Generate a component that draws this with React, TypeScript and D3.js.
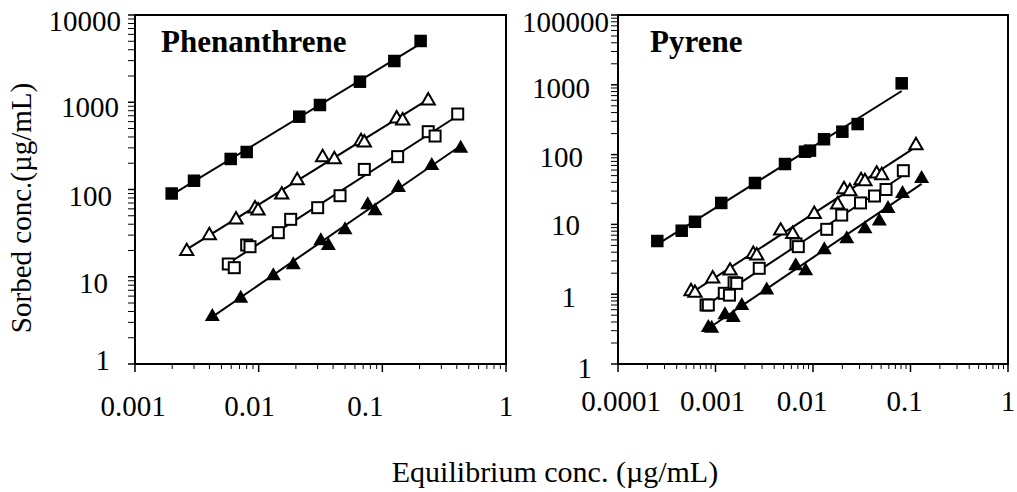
import React from 'react';
import * as d3 from 'd3';

// ---------- DATA ----------
// Phenanthrene panel
const phenFilledSqX = [0.00198, 0.0030, 0.00594, 0.0080, 0.0213, 0.0313, 0.0659, 0.125, 0.204];
const phenFilledSqY = [90, 126, 224, 269, 683, 930, 1720, 2970, 5040];
const phenOpenTriX = [0.00262, 0.00399, 0.00656, 0.00934, 0.00988, 0.01536, 0.0205, 0.0329, 0.0409, 0.0672, 0.0715, 0.1306, 0.146, 0.235];
const phenOpenTriY = [20.3, 30.9, 46.8, 62.5, 59.3, 90.4, 132, 242, 230, 369, 357, 672, 638, 1081];
const phenOpenSqX = [0.00568, 0.00635, 0.0080, 0.00851, 0.01442, 0.01815, 0.0300, 0.0455, 0.0715, 0.133, 0.235, 0.267, 0.407];
const phenOpenSqY = [14.0, 12.7, 23.1, 22.1, 32.0, 45.5, 61.9, 84.9, 170, 238, 460, 410, 733];
const phenFilledTriX = [0.00422, 0.00716, 0.01313, 0.01905, 0.0318, 0.0366, 0.0499, 0.0762, 0.0873, 0.135, 0.251, 0.430];
const phenFilledTriY = [3.64, 5.9, 10.7, 14.3, 26.9, 23.7, 35.9, 69.5, 59.3, 110, 196, 310];

// Pyrene panel
const pyrFilledSqX = [0.000253, 0.00045, 0.000616, 0.001146, 0.00254, 0.00516, 0.00828, 0.00931, 0.01297, 0.0200, 0.0287, 0.0812];
const pyrFilledSqY = [5.78, 8.12, 10.9, 20.3, 39.2, 73.3, 110, 114, 166, 213, 274, 1050];
const pyrOpenTriX = [0.000561, 0.000616, 0.000936, 0.00141, 0.00244, 0.00265, 0.00466, 0.00619, 0.0103, 0.0179, 0.0208, 0.0239, 0.0311, 0.0341, 0.0450, 0.0507, 0.1138];
const pyrOpenTriY = [1.15, 1.09, 1.75, 2.27, 3.93, 3.73, 8.5, 7.6, 14.7, 20.1, 33.2, 31.1, 44.7, 43.3, 55.7, 52.7, 142];
const pyrOpenSqX = [0.0008, 0.000844, 0.00123, 0.00139, 0.00155, 0.00165, 0.00281, 0.0067, 0.00707, 0.01383, 0.0197, 0.0307, 0.0427, 0.0561, 0.0844];
const pyrOpenSqY = [0.70, 0.70, 1.03, 0.97, 1.46, 1.43, 2.35, 5.24, 4.80, 8.5, 13.6, 20.3, 25.5, 31.6, 58.8];
const pyrFilledTriX = [0.000844, 0.000914, 0.00125, 0.00152, 0.00186, 0.00335, 0.00665, 0.00841, 0.01306, 0.0222, 0.0341, 0.0479, 0.0588, 0.0828, 0.130];
const pyrFilledTriY = [0.35, 0.342, 0.533, 0.487, 0.724, 1.21, 2.68, 2.27, 4.54, 6.53, 9.08, 11.8, 17.8, 29.1, 47.8];

// Tick values and labels
const phenXTicks = [0.001, 0.01, 0.1, 1];
const phenXLabels = ['0.001', '0.01', '0.1', '1'];
const phenYTicks = [1, 10, 100, 1000, 10000];
const phenYLabels = ['1', '10', '100', '1000', '10000'];
const pyrXTicks = [0.0001, 0.001, 0.01, 0.1, 1];
const pyrXLabels = ['0.0001', '0.001', '0.01', '0.1', '1'];
const pyrYTicks = [0.1, 1, 10, 100, 1000, 10000];
const pyrYLabels = ['1', '1', '10', '100', '1000', '100000'];

const panelTitles = ['Phenanthrene', 'Pyrene'];
const yAxisTitle = 'Sorbed conc.(\u00b5g/mL)';
const xAxisTitle = 'Equilibrium conc. (\u00b5g/mL)';

// ---------- LAYOUT ----------
const W = 1017;
const H = 492;
const FONT = "'Liberation Serif', 'Times New Roman', serif";

type Series = { x: number[]; y: number[]; kind: 'sqF' | 'sqO' | 'triF' | 'triO' };

const panels = [
  {
    title: panelTitles[0],
    titleX: 161,
    x0: 135, x1: 506, y0: 15, y1: 364,
    xDomain: [0.001, 1], yDomain: [1, 10000],
    xTicks: phenXTicks, xLabels: phenXLabels, xLabelDx: [-2, -9, -17, 0], xLabelBase: 416,
    yTicks: phenYTicks, yLabels: phenYLabels,
    yLabelEnd: [110, 108, 112, 119, 121], yLabelDy: [6, 16, 16, 15, 16],
    series: [
      { x: phenFilledSqX, y: phenFilledSqY, kind: 'sqF' },
      { x: phenOpenTriX, y: phenOpenTriY, kind: 'triO' },
      { x: phenOpenSqX, y: phenOpenSqY, kind: 'sqO' },
      { x: phenFilledTriX, y: phenFilledTriY, kind: 'triF' },
    ] as Series[],
  },
  {
    title: panelTitles[1],
    titleX: 650,
    x0: 618, x1: 1008, y0: 15, y1: 364,
    xDomain: [0.0001, 1], yDomain: [0.1, 10000],
    xTicks: pyrXTicks, xLabels: pyrXLabels, xLabelDx: [3, -3, -11, -6, 0], xLabelBase: 411,
    yTicks: pyrYTicks, yLabels: pyrYLabels,
    yLabelEnd: [592, 576, 580, 583, 590, 609], yLabelDy: [14, 13, 11, 12, 13, 17],
    series: [
      { x: pyrFilledSqX, y: pyrFilledSqY, kind: 'sqF' },
      { x: pyrOpenTriX, y: pyrOpenTriY, kind: 'triO' },
      { x: pyrOpenSqX, y: pyrOpenSqY, kind: 'sqO' },
      { x: pyrFilledTriX, y: pyrFilledTriY, kind: 'triF' },
    ] as Series[],
  },
];

function logFit(xs: number[], ys: number[]) {
  const lx = xs.map(Math.log10);
  const ly = ys.map(Math.log10);
  const mx = d3.mean(lx)!;
  const my = d3.mean(ly)!;
  let num = 0, den = 0;
  lx.forEach((v, i) => { num += (v - mx) * (ly[i] - my); den += (v - mx) * (v - mx); });
  const b = num / den;
  const a = my - b * mx;
  return (x: number) => Math.pow(10, a + b * Math.log10(x));
}

function minorTicks(domain: number[]) {
  const out: number[] = [];
  const lo = Math.round(Math.log10(domain[0]));
  const hi = Math.round(Math.log10(domain[1]));
  for (let e = lo; e < hi; e++) {
    for (let m = 2; m <= 9; m++) out.push(m * Math.pow(10, e));
  }
  return out;
}

const TRI = 'M0,-7L7.5,6L-7.5,6Z';
const TRI_O = 'M0,-6.2L6.6,5.2L-6.6,5.2Z';

function Marker({ kind, cx, cy }: { kind: string; cx: number; cy: number }) {
  if (kind === 'sqF') return <rect x={cx - 6.25} y={cy - 6.25} width={12.5} height={12.5} fill="#000" />;
  if (kind === 'sqO') return <rect x={cx - 5.5} y={cy - 5.5} width={11} height={11} fill="#fff" stroke="#000" strokeWidth={2} />;
  if (kind === 'triF') return <path d={TRI} transform={`translate(${cx},${cy})`} fill="#000" />;
  return <path d={TRI_O} transform={`translate(${cx},${cy})`} fill="#fff" stroke="#000" strokeWidth={2} strokeLinejoin="miter" />;
}

function Panel({ p }: { p: typeof panels[number] }) {
  const xs = d3.scaleLog().domain(p.xDomain).range([p.x0, p.x1]);
  const ys = d3.scaleLog().domain(p.yDomain).range([p.y1, p.y0]);
  const line = d3.line<[number, number]>().x(d => xs(d[0])).y(d => ys(d[1]));
  const xMinor = minorTicks(p.xDomain);
  const yMinor = minorTicks(p.yDomain);
  return (
    <g>
      {/* fitted lines */}
      {p.series.map((s, i) => {
        const f = logFit(s.x, s.y);
        const xmin = d3.min(s.x)!;
        const xmax = d3.max(s.x)!;
        const pts: [number, number][] = [[xmin, f(xmin)], [xmax, f(xmax)]];
        return <path key={`l${i}`} d={line(pts)!} fill="none" stroke="#000" strokeWidth={2} />;
      })}
      {/* markers */}
      {p.series.map((s, i) => (
        <g key={`m${i}`}>
          {s.x.map((xv, j) => (
            <Marker key={j} kind={s.kind} cx={xs(xv)} cy={ys(s.y[j])} />
          ))}
        </g>
      ))}
      {/* frame */}
      <rect x={p.x0} y={p.y0} width={p.x1 - p.x0} height={p.y1 - p.y0} fill="none" stroke="#000" strokeWidth={2} />
      {/* y ticks */}
      {yMinor.map((v, i) => (
        <line key={`ym${i}`} x1={p.x0 - 7} x2={p.x0} y1={ys(v)} y2={ys(v)} stroke="#000" strokeWidth={1} />
      ))}
      {p.yTicks.map((v, i) => (
        <line key={`yM${i}`} x1={p.x0 - 7} x2={p.x0} y1={ys(v)} y2={ys(v)} stroke="#000" strokeWidth={1.5} />
      ))}
      {p.yTicks.map((v, i) => (
        <text key={`yl${i}`} x={p.yLabelEnd[i]} y={ys(v) + p.yLabelDy[i]} textAnchor="end"
          fontFamily={FONT} fontSize={29} fill="#000">{p.yLabels[i]}</text>
      ))}
      {/* x ticks */}
      {xMinor.map((v, i) => (
        <line key={`xm${i}`} x1={xs(v)} x2={xs(v)} y1={p.y1} y2={p.y1 + 5} stroke="#000" strokeWidth={1} />
      ))}
      {p.xTicks.map((v, i) => (
        <line key={`xM${i}`} x1={xs(v)} x2={xs(v)} y1={p.y1} y2={p.y1 + 8} stroke="#000" strokeWidth={1.5} />
      ))}
      {p.xTicks.map((v, i) => (
        <text key={`xl${i}`} x={xs(v) + p.xLabelDx[i]} y={p.xLabelBase} textAnchor="middle"
          fontFamily={FONT} fontSize={29} fill="#000">{p.xLabels[i]}</text>
      ))}
      {/* panel title */}
      <text x={p.titleX} y={52} fontFamily={FONT} fontSize={31} fontWeight="bold" fill="#000">{p.title}</text>
    </g>
  );
}

export default function App() {
  return (
    <svg width={W} height={H} viewBox={`0 0 ${W} ${H}`}
      style={{ position: 'absolute', left: 0, top: 0, background: '#fff', display: 'block' }}>
      <rect x={0} y={0} width={W} height={H} fill="#fff" />
      {panels.map((p, i) => <Panel key={i} p={p} />)}
      <text transform="translate(31,208) rotate(-90)" textAnchor="middle" fontFamily={FONT} fontSize={29} fill="#000">{yAxisTitle}</text>
      <text x={555} y={482} textAnchor="middle" fontFamily={FONT} fontSize={30} fill="#000">{xAxisTitle}</text>
    </svg>
  );
}
